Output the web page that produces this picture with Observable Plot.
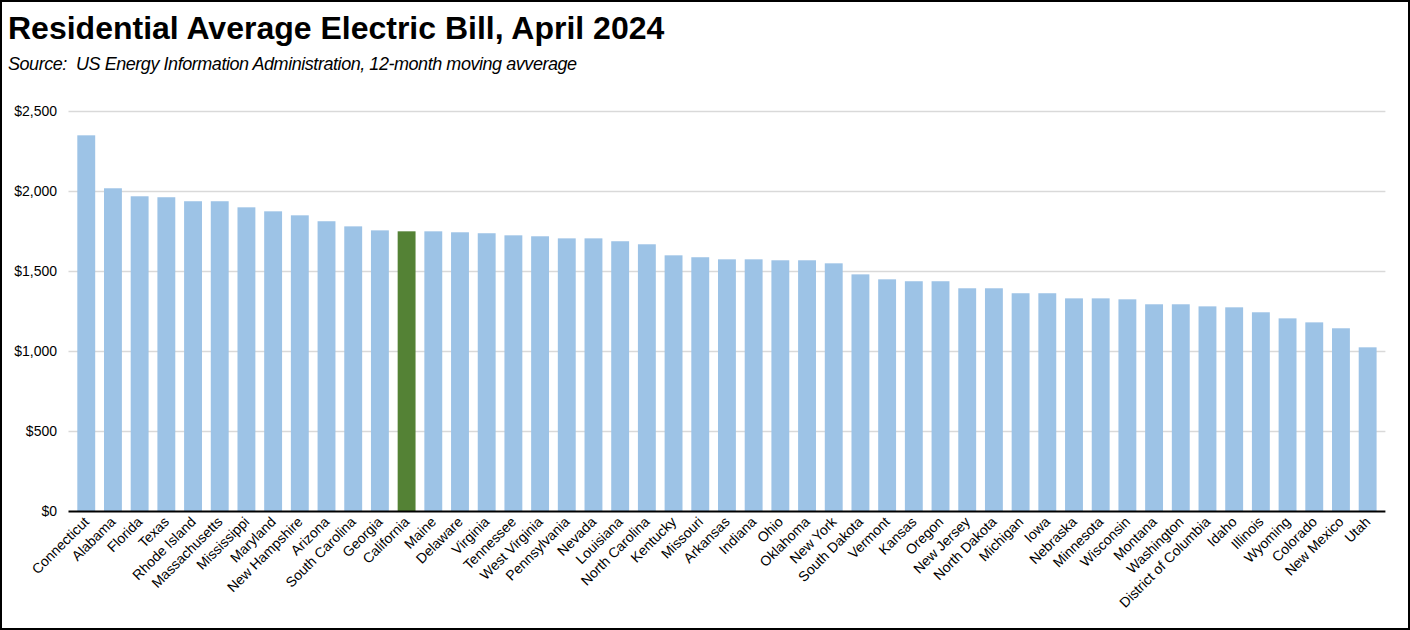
<!DOCTYPE html>
<html>
<head>
<meta charset="utf-8">
<script src="https://cdn.jsdelivr.net/npm/d3@7"></script>
<script src="https://cdn.jsdelivr.net/npm/@observablehq/plot@0.6"></script>
<style>
  html, body { margin: 0; padding: 0; background: #fff; }
  #wrap { position: relative; width: 1410px; height: 630px; box-sizing: border-box; border: 2px solid #000; overflow: hidden; background: #fff; }
  #title { position: absolute; left: 6px; top: 8px; font-family: "Liberation Sans", sans-serif; font-weight: bold; font-size: 32px; color: #000; white-space: nowrap; }
  #subtitle { position: absolute; left: 6px; top: 52px; font-family: "Liberation Sans", sans-serif; font-style: italic; font-size: 18px; letter-spacing: -0.45px; color: #000; white-space: nowrap; }
  #chart { position: absolute; left: 0; top: 78px; }
</style>
</head>
<body>
<div id="wrap">
  <div id="title">Residential Average Electric Bill, April 2024</div>
  <div id="subtitle">Source:&nbsp; US Energy Information Administration, 12-month moving avverage</div>
  <div id="chart"></div>
</div>
<script>
const states = ["Connecticut","Alabama","Florida","Texas","Rhode Island","Massachusetts","Mississippi","Maryland","New Hampshire","Arizona","South Carolina","Georgia","California","Maine","Delaware","Virginia","Tennessee","West Virginia","Pennsylvania","Nevada","Louisiana","North Carolina","Kentucky","Missouri","Arkansas","Indiana","Ohio","Oklahoma","New York","South Dakota","Vermont","Kansas","Oregon","New Jersey","North Dakota","Michigan","Iowa","Nebraska","Minnesota","Wisconsin","Montana","Washington","District of Columbia","Idaho","Illinois","Wyoming","Colorado","New Mexico","Utah"];
const bills = [2348,2017,1967,1961,1936,1936,1898,1873,1848,1811,1779,1754,1748,1748,1742,1736,1723,1717,1704,1704,1686,1667,1598,1586,1573,1573,1567,1567,1548,1479,1448,1436,1436,1392,1392,1361,1361,1329,1329,1323,1292,1292,1279,1273,1242,1204,1179,1142,1023];
const yTicks = [0,500,1000,1500,2000,2500];
const highlight = "California";

const data = states.map((s, i) => ({state: s, bill: bills[i]}));
const font = '"Liberation Sans", sans-serif';

const chart = Plot.plot({
  width: 1406,
  height: 548,
  marginTop: 31,
  marginBottom: 117,
  marginLeft: 66.5,
  marginRight: 22.6,
  style: {fontFamily: font, fontSize: "14px", color: "#000", background: "transparent"},
  x: {domain: states, padding: 0.33, label: null, tickSize: 0, tickPadding: 8, tickRotate: -45},
  y: {domain: [0, 2500], ticks: yTicks, tickFormat: d3.format("$,"), label: null, tickSize: 0, tickPadding: 12},
  marks: [
    Plot.ruleY(yTicks.filter(d => d > 0), {stroke: "#d9d9d9", strokeWidth: 1.5}),
    Plot.barY(data, {x: "state", y: "bill", fill: d => d.state === highlight ? "#548235" : "#9dc3e6"}),
    Plot.ruleY([0], {stroke: "#000", strokeWidth: 2})
  ]
});
document.getElementById("chart").appendChild(chart);
</script>
</body>
</html>
